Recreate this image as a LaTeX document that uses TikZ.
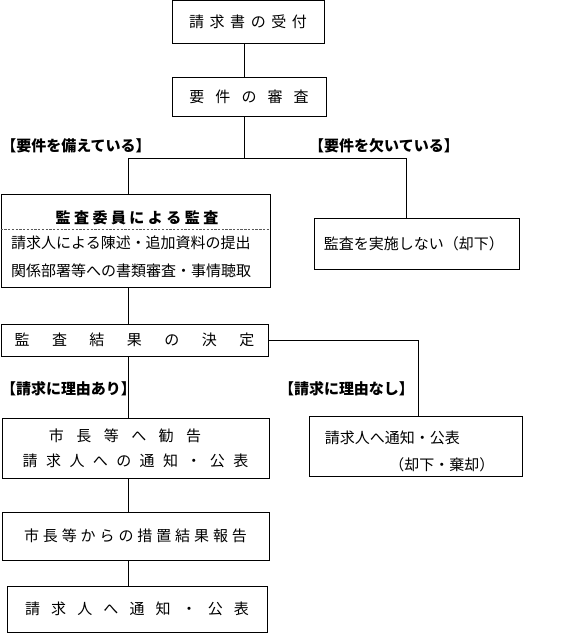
\documentclass[tikz,border=0pt]{standalone}
\usepackage{fontspec}
\setmainfont{Noto Sans CJK JP}
\newcommand\jp{\fontsize{12.8pt}{21pt}\selectfont}
\newcommand\spread[2]{\foreach \ch [count=\k] in {#2}{\ifnum\k>1 \hspace{#1}\fi\ch}}

\begin{document}
\begin{tikzpicture}[
    x=0.03cm, y=-0.03cm,
    box/.style={draw, line width=0.75pt, inner sep=0pt, font=\jp},
    tag/.style={font=\bfseries\jp, inner sep=0pt},
    link/.style={line width=0.75pt},
    cutline/.style={dash pattern=on 2pt off 1.2pt, black!65, line width=0.6pt},
]
\useasboundingbox (0,0) rectangle (563,633);

% boxes
\node[box, minimum width=4.56cm, minimum height=1.29cm] (recv) at (248,22) {\spread{0.37em}{請,求,書,の,受,付}};
\node[box, minimum width=4.62cm, minimum height=1.17cm] (check) at (249,96.5) {\spread{0.74em}{要,件,の,審,査}};
\node[box, minimum width=8.07cm, minimum height=2.79cm] (audit) at (135.5,240.5) {};
\node[tag] (audittitle) at (137,218) {\spread{0.23em}{監,査,委,員,に,よ,る,監,査}};
\node[anchor=west, align=left, inner sep=0pt, font={\fontsize{12.8pt}{23.9pt}\selectfont}] (auditbody) at (11,257)
    {請求人による陳述・追加資料の提出\\関係部署等への書類審査・事情聴取};
\node[box, align=left, text width=5.55cm, inner xsep=0.3cm, minimum height=1.53cm] (skip) at (416.5,243.5) {監査を実施しない（却下）};
\node[box, minimum width=8.01cm, minimum height=0.96cm] (decide) at (134.5,340) {\spread{1.5em}{監,査,結,果,の,決,定}};
\node[box, align=left, minimum width=8.01cm, minimum height=1.8cm, font={\fontsize{12.8pt}{21.3pt}\selectfont}] (advise) at (135.5,448)
    {\hspace*{1.75em}\spread{0.83em}{市,長,等,へ,勧,告}\\\spread{0.56em}{請,求,人,へ,の,通,知,・,公,表}};
\node[box, align=left, text width=5.43cm, inner xsep=0.48cm, minimum height=1.8cm, font={\fontsize{12.8pt}{23pt}\selectfont}] (reject) at (415.5,446)
    {\rule{0pt}{20pt}請求人へ通知・公表\\\hspace*{4.3em}（却下・棄却）};
\node[box, minimum width=8.01cm, minimum height=1.44cm] (report) at (135.5,536) {\spread{0.26em}{市,長,等,か,ら,の,措,置,結,果,報,告}};
\node[box, minimum width=7.8cm, minimum height=1.38cm] (notify) at (137,609) {\spread{0.74em}{請,求,人,へ,通,知,・,公,表}};

% branch labels
\node[tag] (hasreq) at (76,146) {【要件を備えている】};
\node[tag] (lackreq) at (384,146) {【要件を欠いている】};
\node[tag] (valid) at (68.5,389) {【請求に理由あり】};
\node[tag] (invalid) at (346.5,389) {【請求に理由なし】};

% connectors
\coordinate (axis) at (244.5,158);
\coordinate (spine) at (128.5,158);
\coordinate (ng1) at (406,158);
\coordinate (ng2) at (418,340);
\coordinate (cut) at (0,229);
\draw[cutline] (audit.west |- cut) -- (audit.east |- cut);
\draw[link] (recv.south -| axis) -- (check.north -| axis);
\draw[link] (check.south -| axis) -- (axis);
\draw[link] (spine) -- (ng1) -- (ng1 |- skip.north);
\draw[link] (spine) -- (spine |- audit.north);
\draw[link] (audit.south -| spine) -- (decide.north -| spine);
\draw[link] (decide.east) -- (ng2) -- (ng2 |- reject.north);
\draw[link] (decide.south -| spine) -- (advise.north -| spine);
\draw[link] (advise.south -| spine) -- (report.north -| spine);
\draw[link] (report.south -| spine) -- (notify.north -| spine);
\end{tikzpicture}
\end{document}
